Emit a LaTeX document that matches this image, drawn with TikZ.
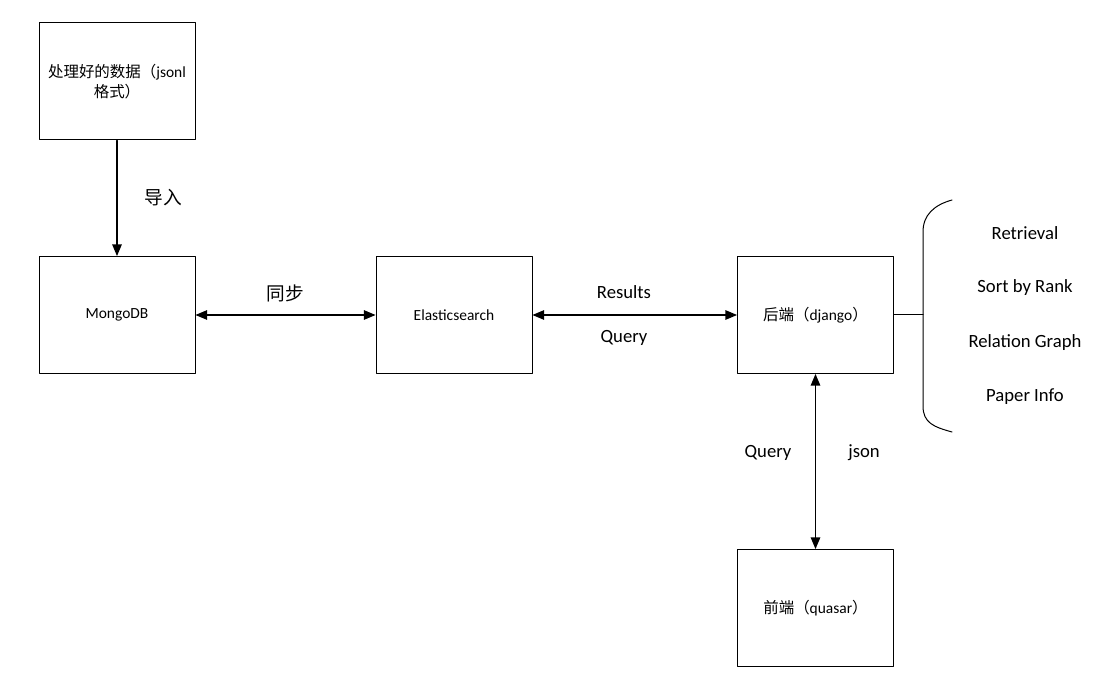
\documentclass[tikz,border=0pt]{standalone}
\usepackage{fontspec}
\setmainfont{Carlito}
\newfontfamily\cjk{Noto Sans CJK SC}
\usetikzlibrary{arrows}

\begin{document}
\begin{tikzpicture}[line cap=round,line join=round,>=triangle 45,x=0.75pt,y=-0.75pt,
    block/.style={draw,line width=0.75pt,minimum width=117pt,minimum height=87.75pt,inner sep=0pt,align=center,font=\fontsize{11.6}{15}\selectfont},
    conn/.style={line width=1pt},
    lab/.style={font=\fontsize{14}{17}\selectfont}]
      \useasboundingbox (0,0) rectangle (1100,673);
      % boxes
      \node[block] (data) at (117,81.5) {{\cjk 处理好的数据（}jsonl\\{\cjk 格式）}};
      \node[block] (mongo) at (117,315) {MongoDB};
      \node[block] (elastic) at (454,315) {Elasticsearch};
      \node[block] (backend) at (815.5,315) {{\cjk 后端（}django{\cjk ）}};
      \node[block] (frontend) at (815.5,608) {{\cjk 前端（}quasar{\cjk ）}};

      % connectors
      \draw[conn,->] (data) -- (mongo);
      \draw[conn,<->] (mongo) -- (elastic);
      \draw[conn,<->] (elastic) -- (backend);
      \draw[conn,<->] (backend) -- (frontend);

      \node[lab] (import) at (163,198) {\cjk 导入};
      \node[lab] (sync) at (285,293) {\cjk 同步};
      \node[lab] (results) at (624,292) {Results};
      \node[lab] (query) at (624,338) {Query};
      \node[lab] (queryfe) at (768,453) {Query};
      \node[lab] (json) at (864,453) {json};

      % brace with the features
      \coordinate (bracemid) at (923,315);
      \draw[line width=0.75pt] (backend.east) -- (bracemid);
      \draw[line width=0.75pt] (952,200) .. controls (934,205) and (923,215) .. (923,232)
        -- (923,406) .. controls (923,423) and (934,427) .. (952,432);
      \foreach \t [count=\i] in {Retrieval,Sort by Rank,Relation Graph,Paper Info}{
        \node[lab] (feat\i) at (1025,233+54.6*\i-54.6) {\t};
      }
    \end{tikzpicture}
\end{document}
